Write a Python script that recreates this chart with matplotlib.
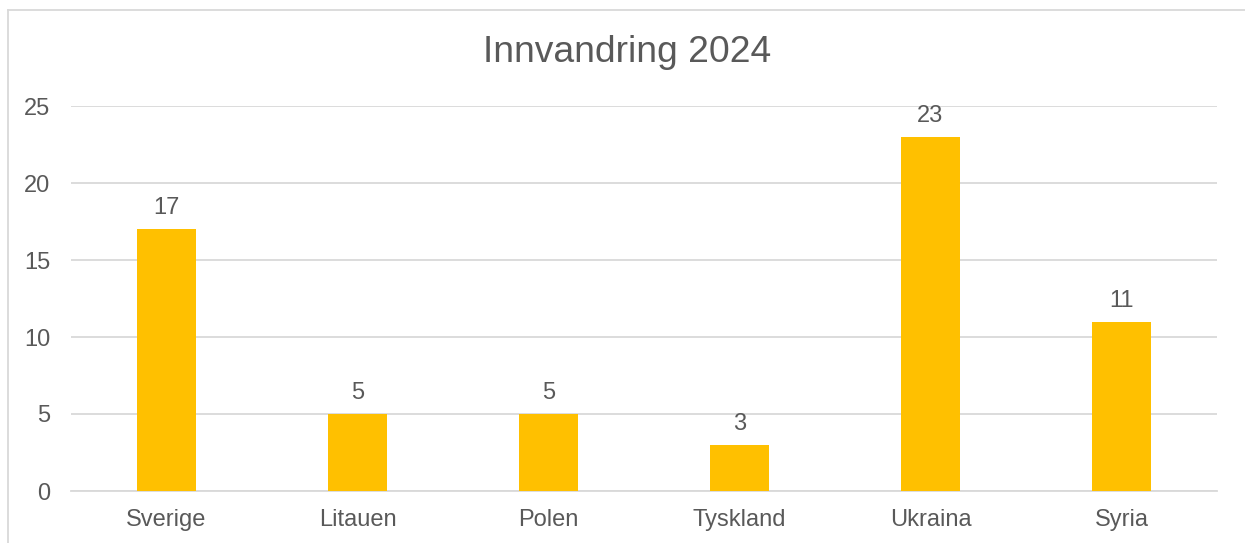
import matplotlib.pyplot as plt
from matplotlib.lines import Line2D

countries = ["Sverige", "Litauen", "Polen", "Tyskland", "Ukraina", "Syria"]
counts = [17, 5, 5, 3, 23, 11]
yticks = [0, 5, 10, 15, 20, 25]

TEXT = "#595959"
GRID = "#D9D9D9"
BAR = "#FFC000"

plt.rcParams["font.family"] = ["Liberation Sans", "DejaVu Sans"]

fig = plt.figure(figsize=(12.45, 5.43), dpi=100)
ax = fig.add_axes([71 / 1245, 1 - 491 / 543, 1146 / 1245, 385 / 543])

x = range(len(countries))
bars = ax.bar(x, counts, width=0.314, color=BAR, zorder=3)
for b, v in zip(bars, counts):
	ax.annotate(str(v), (b.get_x() + b.get_width() / 2, v), xytext=(0, 7),
		textcoords="offset points", ha="center", va="bottom", fontsize=17, color=TEXT)

ax.set_xlim(-0.5, len(countries) - 0.5)
ax.set_ylim(0, 25)
ax.set_yticks(yticks)
ax.set_xticks(list(x))
ax.set_xticklabels(countries)
ax.tick_params(axis="both", length=0, labelsize=17, labelcolor=TEXT)
ax.tick_params(axis="y", pad=15)
ax.tick_params(axis="x", pad=13)
ax.grid(axis="y", color=GRID, linewidth=1.3, zorder=0)
for s in ["top", "right", "left"]:
	ax.spines[s].set_visible(False)
ax.spines["bottom"].set_color(GRID)
ax.spines["bottom"].set_linewidth(1.3)

fig.text(627 / 1245, 1 - 53 / 543, "Innvandring 2024", ha="center", va="center",
	fontsize=26.8, color=TEXT)

# chart frame (only left and top edges visible in the crop)
fig.add_artist(Line2D([7.5 / 1245, 7.5 / 1245], [0, 1 - 10 / 543], transform=fig.transFigure,
	color=GRID, linewidth=1.3))
fig.add_artist(Line2D([7.5 / 1245, 1], [1 - 10 / 543, 1 - 10 / 543], transform=fig.transFigure,
	color=GRID, linewidth=1.3))

fig.savefig("out.png", dpi=100)
